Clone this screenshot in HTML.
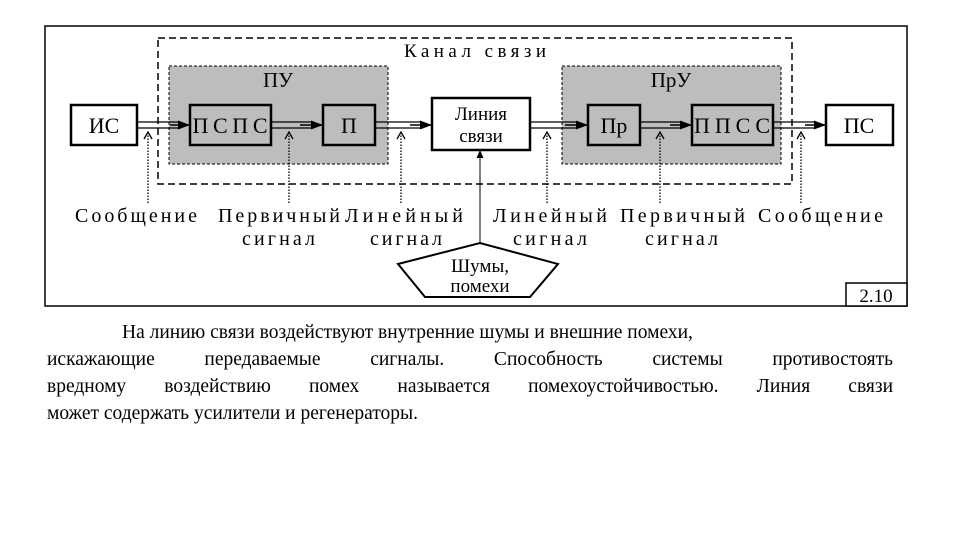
<!DOCTYPE html>
<html><head><meta charset="utf-8"><style>
body{margin:0;width:960px;height:540px;background:#fff;overflow:hidden;position:relative;font-family:"Liberation Serif",serif}
.l{position:absolute;left:47px;width:846px;font-size:19.5px;line-height:27px;color:#000;white-space:nowrap}
.j{text-align:justify;text-align-last:justify}
</style></head><body>
<svg width="960" height="320" style="position:absolute;left:0;top:0" font-family="Liberation Serif, serif">
<defs><marker id="a" markerWidth="12" markerHeight="9" refX="11" refY="4.5" orient="auto" markerUnits="userSpaceOnUse"><path d="M0,0L12,4.5L0,9z"/></marker>
<marker id="b" markerWidth="8" markerHeight="7" refX="7" refY="3.5" orient="auto" markerUnits="userSpaceOnUse"><path d="M0,0L8,3.5L0,7z"/></marker></defs>
<rect x="45" y="26" width="862" height="280" fill="none" stroke="#000" stroke-width="1.5"/>
<rect x="158" y="38" width="634" height="146" fill="none" stroke="#000" stroke-width="1.5" stroke-dasharray="7,4"/>
<text x="475" y="57" font-size="19" text-anchor="middle" textLength="142">Канал связи</text>
<rect x="169" y="66" width="219" height="98" fill="#bdbdbd" stroke="#000" stroke-dasharray="3,2"/>
<rect x="562" y="66" width="219" height="98" fill="#bdbdbd" stroke="#000" stroke-dasharray="3,2"/>
<text x="278" y="87" font-size="21" text-anchor="middle">ПУ</text>
<text x="671" y="87" font-size="21" text-anchor="middle">ПрУ</text>
<g stroke="#000" stroke-width="2.5">
<rect x="71" y="105" width="66" height="40" fill="#fff"/>
<rect x="190" y="105" width="81" height="40" fill="#bdbdbd"/>
<rect x="323" y="105" width="52" height="40" fill="#bdbdbd"/>
<rect x="432" y="98" width="98" height="52" fill="#fff"/>
<rect x="588" y="105" width="52" height="40" fill="#bdbdbd"/>
<rect x="692" y="105" width="81" height="40" fill="#bdbdbd"/>
<rect x="826" y="105" width="67" height="40" fill="#fff"/>
</g>
<g font-size="22" text-anchor="middle">
<text x="104" y="133">ИС</text><text x="230" y="133" textLength="75">ПСПС</text><text x="349" y="133">П</text>
<text x="481" y="120" font-size="19">Линия</text><text x="481" y="142" font-size="19">связи</text>
<text x="614" y="133">Пр</text><text x="732" y="133" textLength="76">ППСС</text><text x="859" y="133">ПС</text>
</g>
<g stroke="#000" stroke-width="1.3" fill="none">
<path d="M137,122H178M137,128H178"/><path d="M271,122H311M271,128H311"/><path d="M375,122H420M375,128H420"/>
<path d="M530,122H576M530,128H576"/><path d="M640,122H680M640,128H680"/><path d="M773,122H814M773,128H814"/>
</g>
<g stroke="#000" stroke-width="1.5">
<line x1="170" y1="125" x2="189" y2="125" marker-end="url(#a)"/>
<line x1="300" y1="125" x2="322" y2="125" marker-end="url(#a)"/>
<line x1="410" y1="125" x2="431" y2="125" marker-end="url(#a)"/>
<line x1="565" y1="125" x2="587" y2="125" marker-end="url(#a)"/>
<line x1="670" y1="125" x2="691" y2="125" marker-end="url(#a)"/>
<line x1="805" y1="125" x2="825" y2="125" marker-end="url(#a)"/>
<line x1="480" y1="244" x2="480" y2="151" stroke-width="1" marker-end="url(#b)"/>
</g>
<g stroke="#000" stroke-width="1.3" fill="none">
<path d="M148,203V134" stroke-dasharray="1.5,1.5"/><path d="M144,139L148,132L152,139"/>
<path d="M289,203V134" stroke-dasharray="1.5,1.5"/><path d="M285,139L289,132L293,139"/>
<path d="M401,203V134" stroke-dasharray="1.5,1.5"/><path d="M397,139L401,132L405,139"/>
<path d="M547,203V134" stroke-dasharray="1.5,1.5"/><path d="M543,139L547,132L551,139"/>
<path d="M660,203V134" stroke-dasharray="1.5,1.5"/><path d="M656,139L660,132L664,139"/>
<path d="M801,203V134" stroke-dasharray="1.5,1.5"/><path d="M797,139L801,132L805,139"/>
</g>
<g font-size="20">
<text x="75" y="222" textLength="122">Сообщение</text><text x="218" y="222" textLength="122">Первичный</text><text x="345" y="222" textLength="118">Линейный</text>
<text x="242" y="245" textLength="73">сигнал</text><text x="370" y="245" textLength="72">сигнал</text>
<text x="493" y="222" textLength="114">Линейный</text><text x="620" y="222" textLength="125">Первичный</text><text x="758" y="222" textLength="125">Сообщение</text>
<text x="513" y="245" textLength="74">сигнал</text><text x="645" y="245" textLength="73">сигнал</text>
</g>
<polygon points="398,264 480,243 558,264 530,297 425,297" fill="#fff" stroke="#000" stroke-width="2"/>
<text x="480" y="272" font-size="19" text-anchor="middle">Шумы,</text>
<text x="480" y="292" font-size="19" text-anchor="middle">помехи</text>
<rect x="846" y="283" width="61" height="23" fill="#fff" stroke="#000" stroke-width="1.5"/>
<text x="876" y="302" font-size="19" text-anchor="middle">2.10</text>
</svg>
<div class="l" style="top:319px;left:122px;width:710px" >На линию связи воздействуют внутренние шумы и внешние помехи,</div>
<div class="l j" style="top:346px">искажающие передаваемые сигналы. Способность системы противостоять</div>
<div class="l j" style="top:373px">вредному воздействию помех называется помехоустойчивостью. Линия связи</div>
<div class="l" style="top:400px">может содержать усилители и регенераторы.</div>
</body></html>
